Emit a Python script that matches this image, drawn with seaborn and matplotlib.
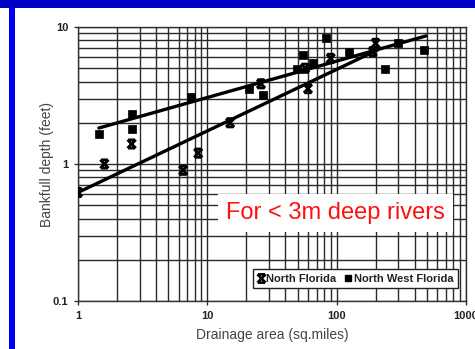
import numpy as np
import pandas as pd
import matplotlib
matplotlib.use("Agg")
import matplotlib.pyplot as plt
from matplotlib.path import Path
from matplotlib.lines import Line2D
from matplotlib.patches import Rectangle
from matplotlib.ticker import FixedLocator, FixedFormatter, LogLocator, NullFormatter
import seaborn as sns

# Bankfull depth vs drainage area, two regional datasets
nf_area = [1.0, 1.6, 2.6, 6.5, 8.5, 15, 26, 57, 60, 90, 190, 200]
nf_depth = [0.62, 1.0, 1.4, 0.9, 1.2, 2.0, 3.85, 5.0, 3.55, 5.9, 6.6, 7.6]

nwf_area = [1.45, 2.6, 2.6, 7.5, 21, 27, 49, 55, 66, 83, 124, 235, 300, 470]
nwf_depth = [1.65, 2.3, 1.8, 3.1, 3.5, 3.2, 4.9, 6.2, 5.5, 8.3, 6.6, 4.9, 7.7, 6.8]

# Power-law trend lines (straight on log-log axes), given by their end points
nf_trend_area = [1.0, 207]
nf_trend_depth = [0.62, 6.8]
nwf_trend_area = [1.45, 490]
nwf_trend_depth = [1.83, 8.6]

x_ticks = [1, 10, 100, 1000]
x_tick_labels = ["1", "10", "100", "1000"]
y_ticks = [0.1, 1, 10]
y_tick_labels = ["0.1", "1", "10"]

sns.set_theme(style="ticks")
plt.rcParams["font.family"] = ["Liberation Sans", "DejaVu Sans"]

fig = plt.figure(figsize=(4.75, 3.49), dpi=100)
fig.patch.set_facecolor("white")
# Slide frame: dark band on top, bright bar on the left
fig.patches.append(Rectangle((0, 1 - 8 / 349), 1, 8 / 349, transform=fig.transFigure,
                             facecolor="#0000c4", edgecolor="none", zorder=0))
fig.patches.append(Rectangle((9 / 475, 0), 6 / 475, 1 - 8 / 349, transform=fig.transFigure,
                             facecolor="#0000f0", edgecolor="none", zorder=0))

ax = fig.add_axes([78 / 475, 1 - 301 / 349, 388 / 475, 274 / 349])
ax.set_xscale("log")
ax.set_yscale("log")
ax.set_xlim(1, 1000)
ax.set_ylim(0.1, 10)

# Full log grid, major and minor
ax.xaxis.set_minor_locator(LogLocator(base=10, subs=np.arange(2, 10)))
ax.yaxis.set_minor_locator(LogLocator(base=10, subs=np.arange(2, 10)))
ax.xaxis.set_minor_formatter(NullFormatter())
ax.yaxis.set_minor_formatter(NullFormatter())
ax.grid(True, which="both", color="#2a2a2a", linewidth=1.0)
ax.set_axisbelow(True)

# Cross marker with bars on top and bottom for North Florida
cross_verts = [(-1, -1), (1, 1), (-1, 1), (1, -1),
               (-0.8, 1), (0.8, 1), (-0.8, -1), (0.8, -1)]
cross_codes = [Path.MOVETO, Path.LINETO] * 4
cross = Path(cross_verts, cross_codes)

nf = pd.DataFrame({"area": nf_area, "depth": nf_depth})
nwf = pd.DataFrame({"area": nwf_area, "depth": nwf_depth})

sns.lineplot(x=nf_trend_area, y=nf_trend_depth, ax=ax, color="black",
             linewidth=2.4, zorder=3)
sns.lineplot(x=nwf_trend_area, y=nwf_trend_depth, ax=ax, color="black",
             linewidth=2.4, zorder=3)
sns.scatterplot(data=nwf, x="area", y="depth", ax=ax, marker="s", s=26,
                color="black", edgecolor="black", linewidth=0.5, zorder=4)
sns.scatterplot(data=nf, x="area", y="depth", ax=ax, marker=cross, s=36,
                color="black", edgecolor="black", linewidth=2.0, zorder=4)
ax.collections[-1].set_facecolor("none")

ax.xaxis.set_major_locator(FixedLocator(x_ticks))
ax.xaxis.set_major_formatter(FixedFormatter(x_tick_labels))
ax.yaxis.set_major_locator(FixedLocator(y_ticks))
ax.yaxis.set_major_formatter(FixedFormatter(y_tick_labels))
ax.tick_params(axis="both", which="major", length=3, width=1, color="#333333",
               labelsize=8, labelcolor="#222222", pad=4)
ax.tick_params(axis="both", which="minor", length=0)
for lab in ax.get_xticklabels() + ax.get_yticklabels():
    lab.set_fontweight("bold")

for sp in ax.spines.values():
    sp.set_color("#333333")
    sp.set_linewidth(1.0)

ax.set_xlabel("Drainage area (sq.miles)", fontsize=10, color="#444444", labelpad=5)
ax.set_ylabel("Bankfull depth (feet)", fontsize=10, color="#444444", labelpad=-1)

ax.text(0.664, 0.321, "For < 3m deep rivers", transform=ax.transAxes,
        ha="center", va="center", fontsize=17, color="#ff1010", zorder=6,
        bbox=dict(boxstyle="square,pad=0.35", facecolor="white", edgecolor="none"))

handles = [
    Line2D([], [], linestyle="none", marker=cross, markersize=6,
           markeredgewidth=1.8, color="black", markerfacecolor="none"),
    Line2D([], [], linestyle="none", marker="s", markersize=4, color="black"),
]
leg = ax.legend(handles, ["North Florida", "North West Florida"], ncol=2,
                loc="lower right", bbox_to_anchor=(0.979, 0.047),
                frameon=True, fancybox=False, framealpha=1,
                handlelength=0.7, handletextpad=0.15, columnspacing=0.7,
                borderpad=0.4, borderaxespad=0,
                prop={"size": 8, "weight": "bold"})
leg.get_frame().set_edgecolor("#222222")
leg.get_frame().set_linewidth(1.0)
for t in leg.get_texts():
    t.set_color("#222222")
leg.set_zorder(7)

fig.savefig("out.png", dpi=100)
